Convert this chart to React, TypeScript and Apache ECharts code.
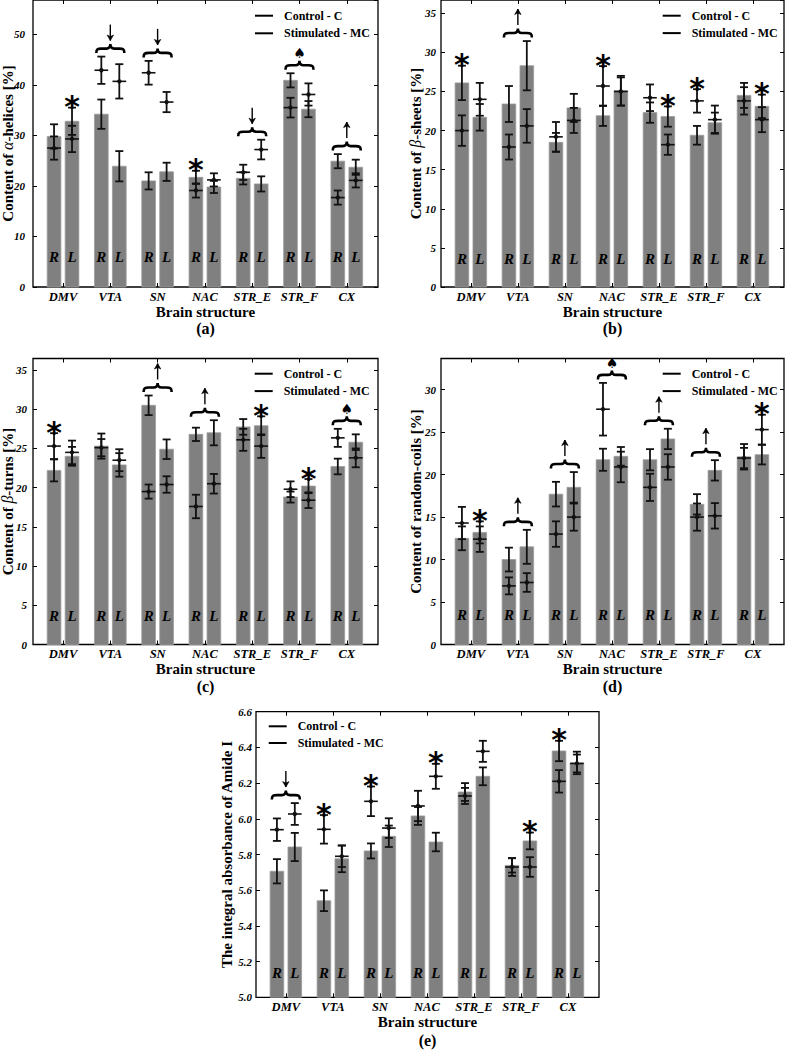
import React, { useEffect, useRef } from "react";
import * as echarts from "echarts";

// ---------- categories ----------
const groups = ["DMV", "VTA", "SN", "NAC", "STR_E", "STR_F", "CX"];
const sideLabels = ["R", "L"];
const legendNames = ["Control - C", "Stimulated - MC"];

// order of values: DMV-R, DMV-L, VTA-R, VTA-L, SN-R, SN-L, NAC-R, NAC-L, STR_E-R, STR_E-L, STR_F-R, STR_F-L, CX-R, CX-L
// (a) alpha-helices [%]
const stimA = [29.8, 32.8, 34.2, 23.9, 21.0, 22.8, 21.7, 19.8, 21.5, 20.4, 40.9, 35.2, 24.9, 23.7];
const stimErrA = [2.4, 2.7, 2.9, 3.0, 1.7, 1.8, 1.3, 1.2, 1.2, 1.5, 1.4, 1.6, 1.4, 1.5];
const ctrlA = [27.5, 29.3, 42.9, 40.7, 42.4, 36.6, 19.1, 21.2, 22.7, 27.2, 35.5, 38.1, 17.7, 21.1];
const ctrlErrA = [2.3, 2.6, 2.7, 3.4, 2.35, 2.0, 1.4, 1.3, 1.5, 1.95, 1.95, 2.2, 1.4, 1.4];
const annA = ["starL", "down", "down", "starR", "down", "spade", "up"];

// (b) beta-sheets [%]
const stimB = [26.1, 21.7, 23.4, 28.3, 18.5, 22.9, 21.9, 25.1, 22.3, 21.8, 19.4, 21.0, 24.5, 23.1];
const stimErrB = [2.2, 1.7, 2.3, 3.15, 1.2, 1.8, 1.3, 1.9, 1.3, 1.3, 1.2, 1.3, 1.6, 1.5];
const ctrlB = [20.0, 24.0, 17.9, 20.6, 19.2, 21.3, 25.7, 25.0, 24.2, 18.2, 23.8, 21.4, 23.8, 21.4];
const ctrlErrB = [1.95, 2.1, 1.6, 2.15, 1.9, 1.6, 2.55, 1.8, 1.7, 1.3, 1.5, 1.8, 1.75, 1.6];
const annB = ["starR", "up", "", "starR", "starL", "starR", "starL"];

// (c) beta-turns [%]
const stimC = [22.2, 24.0, 25.3, 22.9, 30.5, 24.9, 26.8, 27.0, 27.75, 27.9, 18.8, 20.2, 22.7, 25.8];
const stimErrC = [1.4, 1.2, 1.6, 1.5, 1.25, 1.25, 0.85, 1.6, 1.0, 1.2, 0.7, 0.9, 1.0, 1.0];
const ctrlC = [25.3, 24.5, 25.1, 23.5, 19.5, 20.4, 17.6, 20.5, 26.1, 25.3, 19.8, 18.4, 26.35, 23.8];
const ctrlErrC = [1.65, 1.5, 1.1, 1.4, 0.9, 1.05, 1.5, 1.25, 1.4, 1.5, 1.0, 1.0, 1.15, 1.2];
const annC = ["starR", "", "up", "up", "starL", "starL", "spade"];

// (d) random-coils [%]
const stimD = [12.5, 13.2, 10.0, 11.5, 17.7, 18.5, 21.75, 22.15, 21.75, 24.2, 16.5, 20.5, 22.1, 22.35];
const stimErrD = [1.4, 1.3, 1.4, 2.0, 1.45, 1.8, 1.3, 1.1, 1.25, 1.2, 1.2, 1.2, 1.5, 1.15];
const ctrlD = [14.3, 12.4, 6.9, 7.3, 13.0, 15.0, 27.7, 20.9, 18.5, 20.9, 15.0, 15.15, 21.95, 25.3];
const ctrlErrD = [1.9, 1.5, 1.0, 1.1, 1.5, 1.6, 3.1, 1.8, 1.6, 1.5, 1.6, 1.5, 1.2, 1.75];
const annD = ["starL", "up", "up", "spade", "up", "up", "starL"];

// (e) integral absorbance of Amide I
const stimE = [5.706, 5.842, 5.541, 5.776, 5.82, 5.902, 6.016, 5.87, 6.15, 6.238, 5.739, 5.876, 6.38, 6.313];
const stimErrE = [0.068, 0.079, 0.058, 0.075, 0.042, 0.06, 0.05, 0.052, 0.05, 0.05, 0.04, 0.047, 0.057, 0.063];
const ctrlE = [5.939, 6.027, 5.941, 5.79, 6.098, 5.948, 6.072, 6.238, 6.128, 6.378, 5.73, 5.73, 6.21, 6.31];
const ctrlErrE = [0.063, 0.061, 0.08, 0.06, 0.083, 0.055, 0.085, 0.07, 0.045, 0.059, 0.05, 0.055, 0.063, 0.05];
const annE = ["down", "starR", "starR", "starL", "", "starL", "starR"];

// ---------- layout / style ----------
const FONT = '"Liberation Serif", "Times New Roman", serif';
const X_MIN = -0.635;
const X_MAX = 6.66;
const OFF = 0.19;
const BAR_W = 0.29;
const INK = "#111";

type Panel = {
  stim: number[]; stimErr: number[]; ctrl: number[]; ctrlErr: number[]; ann: string[];
  box: number[]; yMin: number; yMax: number; yInt: number; yName: string; dec: number;
  labelMargin: number; nameGap: number; rlOff: number; legendPos: number[]; legendGap: number;
  tag: string; tagPos: number[];
};

const panels: Panel[] = [
  { stim: stimA, stimErr: stimErrA, ctrl: ctrlA, ctrlErr: ctrlErrA, ann: annA,
    box: [33, 0, 345, 287], yMin: 0, yMax: 56.8, yInt: 10, yName: "Content of {g|α}-helices [%]", dec: 0,
    labelMargin: 8, nameGap: 17.5, rlOff: 30, legendPos: [255, 8.7], legendGap: 3.6, tag: "(a)", tagPos: [205.5, 328] },
  { stim: stimB, stimErr: stimErrB, ctrl: ctrlB, ctrlErr: ctrlErrB, ann: annB,
    box: [441, 0, 343, 287], yMin: 0, yMax: 36.7, yInt: 5, yName: "Content of {g|β}-sheets [%]", dec: 0,
    labelMargin: 5, nameGap: 17.5, rlOff: 28.4, legendPos: [662.7, 8.7], legendGap: 3.4, tag: "(b)", tagPos: [612.5, 328] },
  { stim: stimC, stimErr: stimErrC, ctrl: ctrlC, ctrlErr: ctrlErrC, ann: annC,
    box: [33, 358.5, 345, 286], yMin: 0, yMax: 36.47, yInt: 5, yName: "Content of {g|β}-turns [%]", dec: 0,
    labelMargin: 6, nameGap: 17.5, rlOff: 28.8, legendPos: [254.7, 366.7], legendGap: 3.4, tag: "(c)", tagPos: [205.5, 686] },
  { stim: stimD, stimErr: stimErrD, ctrl: ctrlD, ctrlErr: ctrlErrD, ann: annD,
    box: [441, 358.5, 343, 286], yMin: 0, yMax: 33.67, yInt: 5, yName: "Content of random-coils [%]", dec: 0,
    labelMargin: 5, nameGap: 17.5, rlOff: 29.2, legendPos: [662.7, 366.7], legendGap: 3.4, tag: "(d)", tagPos: [612.5, 686] },
  { stim: stimE, stimErr: stimErrE, ctrl: ctrlE, ctrlErr: ctrlErrE, ann: annE,
    box: [256, 711.7, 343, 285.6], yMin: 5.0, yMax: 6.6, yInt: 0.2, yName: "The integral absorbance of Amide I", dec: 1,
    labelMargin: 4, nameGap: 21.8, rlOff: 24, legendPos: [268.7, 719.3], legendGap: 2.7, tag: "(e)", tagPos: [427.5, 1040] },
];

const centers = groups.map((_, i) => i);
const barXs = groups.flatMap((_, i) => [i - OFF, i + OFF]);

function textStyle(extra: any) {
  return { fill: "#000", fontFamily: FONT, textAlign: "center", textVerticalAlign: "middle", align: "center", verticalAlign: "middle", ...extra };
}

function bracePath(cx: number, cy: number) {
  const h = 14;
  return `M${cx - h},${cy + 4.5} C${cx - h},${cy + 0.5} ${cx - h + 1.5},${cy} ${cx - h + 5},${cy} L${cx - 4},${cy} C${cx - 1},${cy} ${cx},${cy - 1.5} ${cx},${cy - 4.5} C${cx},${cy - 1.5} ${cx + 1},${cy} ${cx + 4},${cy} L${cx + h - 5},${cy} C${cx + h - 1.5},${cy} ${cx + h},${cy + 0.5} ${cx + h},${cy + 4.5}`;
}

function arrowShapes(cx: number, cy: number, up: boolean) {
  // thin arrow, 16px tall, centred on (cx, cy)
  const top = cy - 8, bot = cy + 8;
  const tip = up ? top : bot;
  const dir = up ? 1 : -1;
  return [
    { type: "line", shape: { x1: cx, y1: top, x2: cx, y2: bot }, style: { stroke: "#000", lineWidth: 1.4 } },
    { type: "polygon", shape: { points: [[cx, tip], [cx - 3.2, tip + dir * 5.5], [cx, tip + dir * 4], [cx + 3.2, tip + dir * 5.5]] },
      style: { fill: "#000", stroke: "#000", lineWidth: 0.6 } },
  ];
}

function buildOption() {
  const grid: any[] = [];
  const xAxis: any[] = [];
  const yAxis: any[] = [];
  const series: any[] = [];
  const legend: any[] = [];
  const graphic: any[] = [];

  panels.forEach((p, k) => {
    grid.push({
      left: p.box[0], top: p.box[1], width: p.box[2], height: p.box[3],
      show: true, borderColor: "#000", borderWidth: 1.3, backgroundColor: "transparent",
      containLabel: false, outerBoundsMode: "none",
    });
    const xBase = {
      gridIndex: k, type: "value", min: X_MIN, max: X_MAX,
      splitLine: { show: false }, axisLine: { show: false, onZero: false },
    };
    xAxis.push({
      ...xBase, position: "bottom",
      axisTick: { show: true, inside: true, length: 4, customValues: centers, lineStyle: { color: "#000", width: 1 } },
      axisLabel: {
        show: true, customValues: centers, margin: 3,
        formatter: (v: number) => groups[Math.round(v)] ?? "",
        color: "#000", fontFamily: FONT, fontWeight: "bold", fontStyle: "italic", fontSize: 12.5,
      },
      name: "Brain structure", nameLocation: "middle", nameGap: 17, nameMoveOverlap: false,
      nameTextStyle: { color: "#000", fontFamily: FONT, fontWeight: "bold", fontSize: 15 },
    });
    xAxis.push({
      ...xBase, position: "top",
      axisTick: { show: true, inside: true, length: 4, customValues: centers, lineStyle: { color: "#000", width: 1 } },
      axisLabel: { show: false },
    });
    const yBase = {
      gridIndex: k, type: "value", min: p.yMin, max: p.yMax, interval: p.yInt,
      splitLine: { show: false }, axisLine: { show: false, onZero: false },
      axisTick: { show: true, inside: true, length: 4, lineStyle: { color: "#000", width: 1 } },
    };
    yAxis.push({
      ...yBase, position: "left",
      axisLabel: {
        show: true, margin: p.labelMargin, showMaxLabel: p.dec > 0,
        formatter: (v: number) => v.toFixed(p.dec),
        color: "#000", fontFamily: FONT, fontWeight: "bold", fontStyle: "italic", fontSize: 11,
      },
      name: p.yName, nameLocation: "middle", nameGap: p.nameGap, nameMoveOverlap: false,
      nameTextStyle: {
        color: "#000", fontFamily: FONT, fontWeight: "bold", fontSize: 15,
        rich: { g: { color: "#000", fontFamily: FONT, fontStyle: "italic", fontWeight: "normal", fontSize: 16 } },
      },
    });
    yAxis.push({ ...yBase, position: "right", axisLabel: { show: false } });

    const xi = 2 * k;
    const yMin = p.yMin;

    // bars (Stimulated - MC)
    series.push({
      type: "custom", name: legendNames[1], xAxisIndex: xi, yAxisIndex: xi, z: 2,
      itemStyle: { color: "#808080" },
      encode: { x: 0, y: 1 },
      data: p.stim.map((v, j) => [barXs[j], v, p.stimErr[j]]),
      renderItem: (params: any, api: any) => {
        const x = api.value(0), v = api.value(1), e = api.value(2);
        const top = api.coord([x, v]);
        const base = api.coord([x, yMin]);
        const hi = api.coord([x, v + e]);
        const lo = api.coord([x, v - e]);
        const w = api.size([BAR_W, 0])[0];
        const s = { stroke: INK, lineWidth: 1.8 };
        const cap = 4;
        return {
          type: "group",
          children: [
            { type: "rect", shape: { x: top[0] - w / 2, y: top[1], width: w, height: base[1] - top[1] },
              style: { fill: "#808080", stroke: "#9c9c9c", lineWidth: 0.8 } },
            { type: "line", shape: { x1: top[0], y1: hi[1], x2: top[0], y2: lo[1] }, style: s },
            { type: "line", shape: { x1: top[0] - cap, y1: hi[1], x2: top[0] + cap, y2: hi[1] }, style: s },
            { type: "line", shape: { x1: top[0] - cap, y1: lo[1], x2: top[0] + cap, y2: lo[1] }, style: s },
          ],
        };
      },
    });

    // crosses (Control - C)
    series.push({
      type: "custom", name: legendNames[0], xAxisIndex: xi, yAxisIndex: xi, z: 3,
      itemStyle: { color: "#000" },
      encode: { x: 0, y: 1 },
      data: p.ctrl.map((v, j) => [barXs[j], v, p.ctrlErr[j]]),
      renderItem: (params: any, api: any) => {
        const x = api.value(0), v = api.value(1), e = api.value(2);
        const c = api.coord([x, v]);
        const hi = api.coord([x, v + e]);
        const lo = api.coord([x, v - e]);
        const w = api.size([BAR_W, 0])[0];
        const s = { stroke: INK, lineWidth: 1.8 };
        const cap = 4;
        return {
          type: "group",
          children: [
            { type: "line", shape: { x1: c[0] - w / 2, y1: c[1], x2: c[0] + w / 2, y2: c[1] }, style: { stroke: INK, lineWidth: 1.6 } },
            { type: "line", shape: { x1: c[0], y1: hi[1], x2: c[0], y2: lo[1] }, style: s },
            { type: "line", shape: { x1: c[0] - cap, y1: hi[1], x2: c[0] + cap, y2: hi[1] }, style: s },
            { type: "line", shape: { x1: c[0] - cap, y1: lo[1], x2: c[0] + cap, y2: lo[1] }, style: s },
            { type: "circle", shape: { cx: c[0], cy: c[1], r: 2.2 }, style: { fill: INK } },
          ],
        };
      },
    });

    // R / L labels inside the bars
    series.push({
      type: "custom", name: "sides-" + k, xAxisIndex: xi, yAxisIndex: xi, z: 4,
      encode: { x: 0, y: 1 },
      data: barXs.map((x) => [x, yMin]),
      renderItem: (params: any, api: any) => {
        const pt = api.coord([api.value(0), api.value(1)]);
        return {
          type: "text", x: pt[0], y: pt[1] - p.rlOff,
          style: textStyle({ text: sideLabels[params.dataIndex % 2], fontWeight: "bold", fontStyle: "italic", fontSize: 15 }),
        };
      },
    });

    // significance annotations
    const kinds: string[] = [];
    const annData: number[][] = [];
    p.ann.forEach((kind, i) => {
      if (!kind) return;
      const colTop = (j: number) => Math.max(p.stim[j] + p.stimErr[j], p.ctrl[j] + p.ctrlErr[j]);
      if (kind === "starR") { kinds.push("star"); annData.push([i - OFF, colTop(2 * i)]); }
      else if (kind === "starL") { kinds.push("star"); annData.push([i + OFF, colTop(2 * i + 1)]); }
      else { kinds.push(kind); annData.push([i, Math.max(colTop(2 * i), colTop(2 * i + 1))]); }
    });
    series.push({
      type: "custom", name: "ann-" + k, xAxisIndex: xi, yAxisIndex: xi, z: 5,
      encode: { x: 0, y: 1 },
      data: annData,
      renderItem: (params: any, api: any) => {
        const kind = kinds[params.dataIndex];
        const pt = api.coord([api.value(0), api.value(1)]);
        const cx = pt[0];
        const cy = pt[1] - 8;
        if (kind === "star") {
          return {
            type: "text", x: cx, y: cy + 7,
            style: textStyle({ text: "*", fontFamily: "DejaVu Sans", fontWeight: "bold", fontSize: 30 }),
          };
        }
        let children: any[] = [
          { type: "path", shape: { pathData: bracePath(cx, cy) }, style: { fill: "none", stroke: "#000", lineWidth: 2.6 } },
        ];
        if (kind === "up" || kind === "down") {
          children = children.concat(arrowShapes(cx, cy - 16, kind === "up"));
        } else if (kind === "spade") {
          children.push({ type: "text", x: cx, y: cy - 12, style: textStyle({ text: "♠", fontFamily: "DejaVu Sans", fontSize: 14 }) });
        }
        return { type: "group", children };
      },
    });

    legend.push({
      data: legendNames, orient: "vertical", left: p.legendPos[0], top: p.legendPos[1],
      padding: 0, itemGap: p.legendGap, itemWidth: 18, itemHeight: 2, icon: "rect",
      selectedMode: false,
      itemStyle: { color: "#000", borderWidth: 0 },
      textStyle: { color: "#000", fontFamily: FONT, fontWeight: "bold", fontSize: 12, lineHeight: 14, padding: [0, 0, 0, 6] },
    });

    graphic.push({
      type: "text", x: p.tagPos[0], y: p.tagPos[1],
      style: { text: p.tag, fill: "#000", font: `bold 16px ${FONT}`, textAlign: "center", textVerticalAlign: "middle" },
    });
  });

  return {
    animation: false,
    backgroundColor: "#fff",
    textStyle: { fontFamily: FONT },
    grid, xAxis, yAxis, series, legend, graphic,
  };
}

export default function App() {
  const ref = useRef<HTMLDivElement>(null);
  useEffect(() => {
    const chart = echarts.init(ref.current!, null, { renderer: "svg", width: 787, height: 1050 });
    chart.setOption(buildOption() as any);
    return () => chart.dispose();
  }, []);
  return <div ref={ref} style={{ position: "absolute", left: 0, top: 0, width: 787, height: 1050 }} />;
}
